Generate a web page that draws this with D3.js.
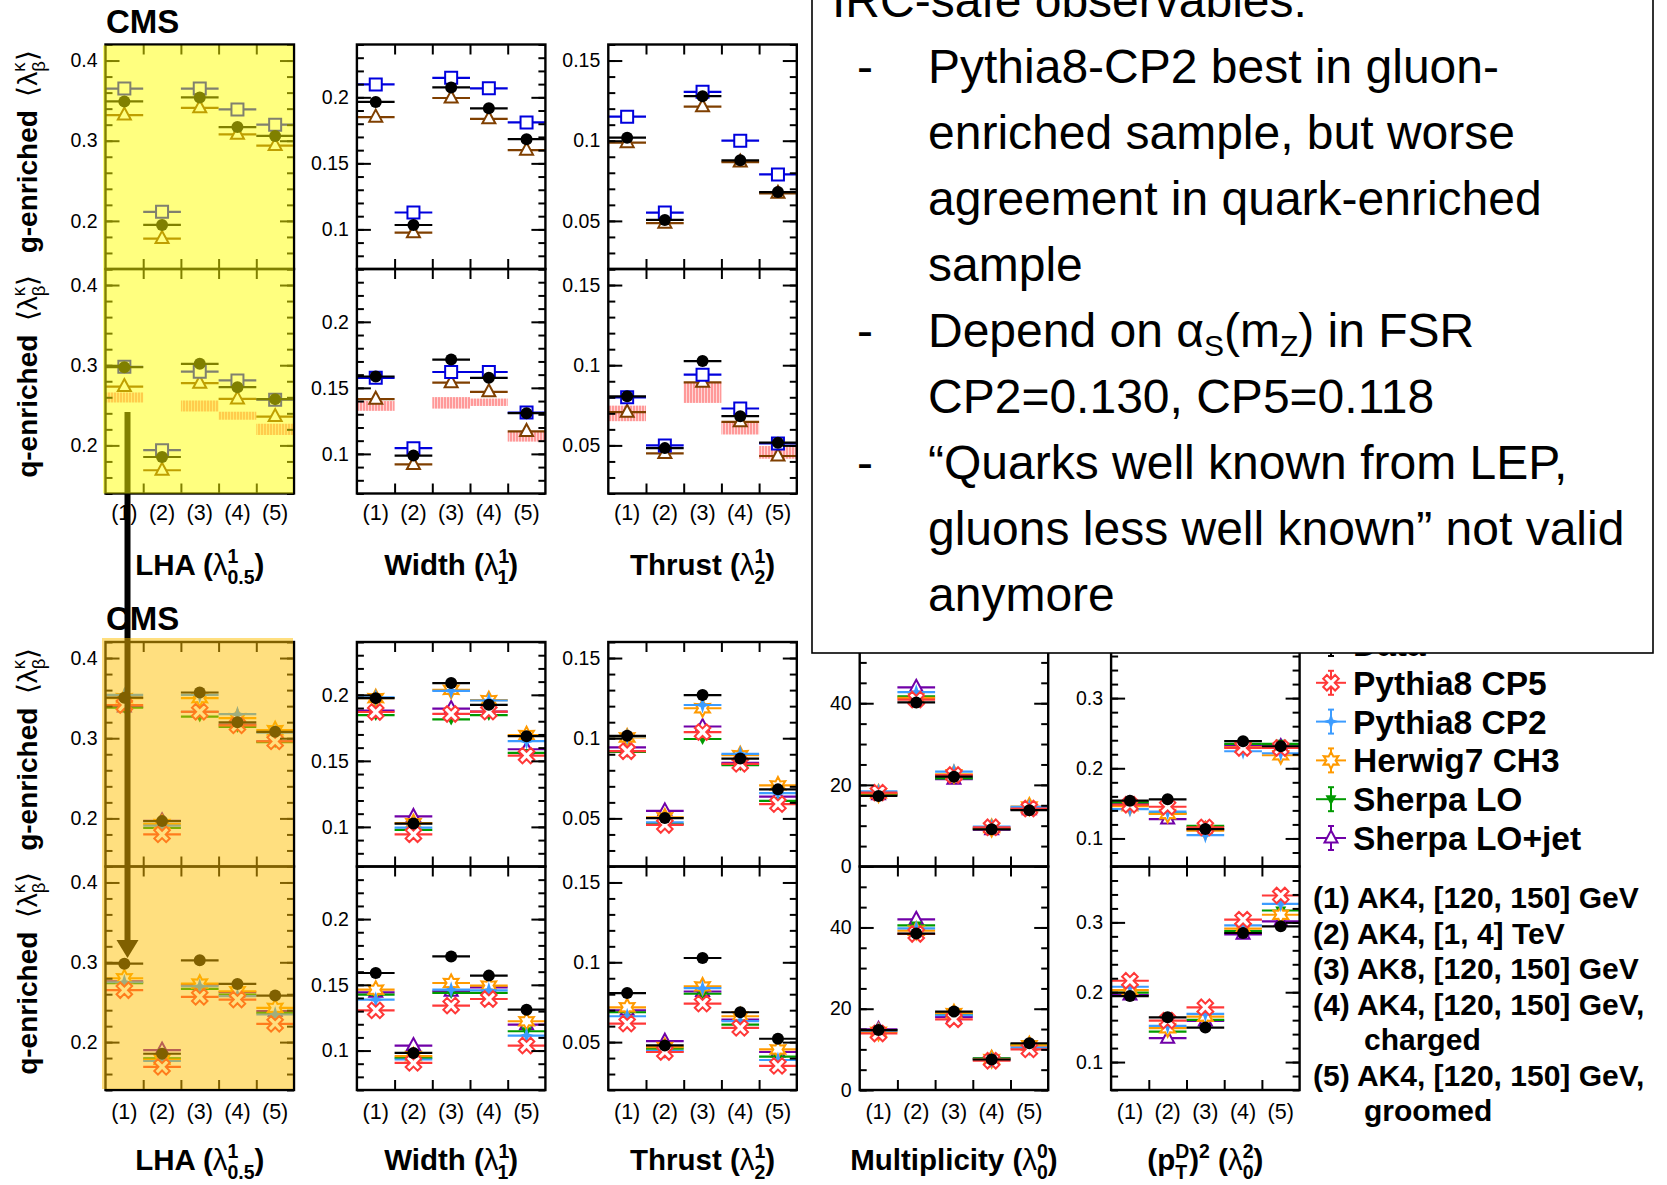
<!DOCTYPE html>
<html>
<head>
<meta charset="utf-8">
<script src="https://cdn.jsdelivr.net/npm/d3@7"></script>
<style>
  body { margin: 0; background: #fff; }
  svg { display: block; }
  text { font-family: "Liberation Sans", Arial, Helvetica, sans-serif; }
</style>
</head>
<body>
<svg id="chart" width="1667" height="1185"></svg>
<script>
// ---------------- categories, axes ----------------
const binLabels = ["(1)", "(2)", "(3)", "(4)", "(5)"];
const obsNames = ["LHA", "Width", "Thrust", "Multiplicity", "pTD"];
const yDomains = [[0.14, 0.42], [0.07, 0.24], [0.02, 0.16], [0, 55], [0.06, 0.38]];
const majorTicks = [[0.2, 0.3, 0.4], [0.1, 0.15, 0.2], [0.05, 0.1, 0.15], [0, 20, 40], [0.1, 0.2, 0.3]];
const minorSteps = [0.02, 0.01, 0.01, 5, 0.02];

// ---------------- upper block (LHA, Width, Thrust) ----------------
// gluon-enriched
const topG_data = [[0.349, 0.195, 0.354, 0.317, 0.306], [0.1965, 0.1033, 0.2075, 0.1917, 0.1683], [0.1019, 0.0506, 0.1278, 0.0878, 0.068]];
const topG_cp2  = [[0.365, 0.2113, 0.365, 0.339, 0.320], [0.2098, 0.1128, 0.2148, 0.2068, 0.181], [0.115, 0.0552, 0.1305, 0.100, 0.079]];
const topG_cp5  = [[0.332, 0.178, 0.341, 0.308, 0.294], [0.185, 0.0975, 0.1995, 0.1837, 0.160], [0.0988, 0.0486, 0.1212, 0.0867, 0.0672]];
// quark-enriched
const topQ_data = [[0.2975, 0.1855, 0.3017, 0.2726, 0.2577], [0.1586, 0.0987, 0.1714, 0.1576, 0.1308], [0.0806, 0.0483, 0.1026, 0.0682, 0.0517]];
const topQ_cp2  = [[0.298, 0.194, 0.292, 0.281, 0.257], [0.1576, 0.1043, 0.162, 0.162, 0.1313], [0.080, 0.050, 0.0941, 0.073, 0.0512]];
const topQ_cp5  = [[0.2734, 0.169, 0.2776, 0.258, 0.236], [0.1414, 0.092, 0.1539, 0.147, 0.117], [0.0707, 0.045, 0.0893, 0.0647, 0.0434]];
const topQ_bandLo = [[0.2535, null, 0.2423, 0.232, 0.213], [0.1326, null, 0.1343, 0.1363, 0.1093], [0.0651, null, 0.0765, 0.0568, 0.0417]];
const topQ_bandHi = [[0.266, null, 0.256, 0.242, 0.227], [0.140, null, 0.143, 0.1419, 0.1168], [0.0748, null, 0.0893, 0.0647, 0.0496]];

// ---------------- lower block (all five observables) ----------------
const botG_data  = [[0.3506, 0.1966, 0.357, 0.3198, 0.308], [0.1975, 0.1025, 0.2089, 0.1924, 0.1687], [0.1015, 0.0502, 0.1269, 0.0873, 0.0681], [17.3, 40.2, 22.0, 9.1, 13.8], [0.1538, 0.1557, 0.1133, 0.2386, 0.2314]];
const botG_cp5   = [[0.3413, 0.180, 0.333, 0.316, 0.296], [0.187, 0.0944, 0.1855, 0.1873, 0.154], [0.0919, 0.0459, 0.1038, 0.084, 0.0589], [18.1, 40.9, 22.4, 9.6, 14.2], [0.148, 0.1452, 0.1157, 0.229, 0.229]];
const botG_cp2   = [[0.354, 0.191, 0.354, 0.330, 0.307], [0.198, 0.0995, 0.203, 0.1957, 0.1649], [0.1011, 0.0475, 0.1207, 0.0902, 0.0657], [18.4, 42.7, 23.25, 9.76, 14.6], [0.1419, 0.1381, 0.1048, 0.2243, 0.2214]];
const botG_h7    = [[0.350, 0.193, 0.350, 0.325, 0.310], [0.1975, 0.1028, 0.2038, 0.196, 0.1695], [0.1005, 0.0506, 0.1187, 0.0894, 0.0706], [17.9, 41.3, 22.6, 9.43, 14.7], [0.1462, 0.1348, 0.111, 0.23, 0.2186]];
const botG_lo    = [[0.338, 0.188, 0.327, 0.314, 0.295], [0.1847, 0.0977, 0.1814, 0.1847, 0.156], [0.0914, 0.0465, 0.0995, 0.0832, 0.0609], [17.7, 41.7, 21.6, 9.2, 14.1], [0.1514, 0.1357, 0.118, 0.2348, 0.2348]];
const botG_lojet = [[0.339, 0.197, 0.333, 0.317, 0.296], [0.188, 0.1079, 0.1896, 0.1873, 0.1588], [0.0943, 0.0547, 0.1073, 0.0846, 0.0636], [17.6, 43.9, 21.4, 9.0, 13.9], [0.149, 0.1276, 0.113, 0.2324, 0.231]];

const botQ_data  = [[0.2983, 0.1854, 0.3025, 0.2729, 0.2583], [0.159, 0.0982, 0.1716, 0.157, 0.1311], [0.0807, 0.0479, 0.1027, 0.0687, 0.0521], [14.75, 38.5, 19.3, 7.5, 11.5], [0.1945, 0.1641, 0.1494, 0.2848, 0.2943]];
const botQ_cp5   = [[0.265, 0.169, 0.2567, 0.2533, 0.2229], [0.1306, 0.0906, 0.1342, 0.1392, 0.1038], [0.0616, 0.0438, 0.0741, 0.0589, 0.0351], [13.9, 38.4, 17.4, 7.2, 10.0], [0.2164, 0.1594, 0.1784, 0.3038, 0.3385]];
const botQ_cp2   = [[0.275, 0.1763, 0.27, 0.2575, 0.2346], [0.1387, 0.0932, 0.1463, 0.1458, 0.1114], [0.0662, 0.0444, 0.0838, 0.0631, 0.0388], [14.6, 39.75, 18.4, 7.4, 10.4], [0.2078, 0.1518, 0.1689, 0.2957, 0.3266]];
const botQ_h7    = [[0.280, 0.178, 0.2733, 0.2637, 0.2429], [0.1463, 0.0957, 0.1514, 0.1494, 0.1223], [0.0718, 0.0469, 0.0849, 0.0662, 0.0454], [14.3, 39.2, 18.9, 7.6, 11.0], [0.2031, 0.1485, 0.165, 0.291, 0.3109]];
const botQ_lo    = [[0.274, 0.1796, 0.2667, 0.2596, 0.2367], [0.1425, 0.0944, 0.1438, 0.1438, 0.1147], [0.0687, 0.0459, 0.0803, 0.061, 0.0409], [14.75, 40.5, 18.6, 7.8, 11.3], [0.1993, 0.1437, 0.1603, 0.2876, 0.317]];
const botQ_lojet = [[0.276, 0.190, 0.272, 0.2625, 0.2388], [0.1443, 0.1038, 0.1451, 0.1481, 0.1197], [0.0699, 0.0506, 0.0817, 0.0641, 0.0438], [14.9, 42.0, 18.0, 7.7, 11.0], [0.196, 0.1342, 0.1589, 0.2829, 0.3014]];

// ---------------- legend and notes ----------------
const legendNames = ["Data", "Pythia8 CP5", "Pythia8 CP2", "Herwig7 CH3", "Sherpa LO", "Sherpa LO+jet"];
const binDescriptions = [
  ["(1) AK4, [120, 150] GeV"],
  ["(2) AK4, [1, 4] TeV"],
  ["(3) AK8, [120, 150] GeV"],
  ["(4) AK4, [120, 150] GeV,", "charged"],
  ["(5) AK4, [120, 150] GeV,", "groomed"]
];
const noteLines = [
  "IRC-safe observables:",
  "Pythia8-CP2 best in gluon-",
  "enriched sample, but worse",
  "agreement in quark-enriched",
  "sample",
  "Depend on α_S(m_Z) in FSR",
  "CP2=0.130, CP5=0.118",
  "\u201CQuarks well known from LEP,",
  "gluons less well known\u201D not valid",
  "anymore"
];
const noteBullets = [1, 5, 7];

// ---------------- styles ----------------
const styleData  = { color: "#000000", marker: "circle", filled: true };
const styleTopA  = { color: "#0000dd", marker: "square", filled: false };
const styleTopB  = { color: "#7f3f00", marker: "triUp", filled: false };
const styleCP5   = { color: "#ff3838", marker: "xcross", filled: false };
const styleCP2   = { color: "#3c9cff", marker: "star4", filled: true };
const styleH7    = { color: "#ff9a00", marker: "hexagram", filled: false };
const styleLO    = { color: "#009a00", marker: "triDown", filled: true };
const styleLOjet = { color: "#7000a8", marker: "triUp", filled: false };
const legendStyles = [styleData, styleCP5, styleCP2, styleH7, styleLO, styleLOjet];

// ---------------- layout ----------------
const panelW = 188.5;
const colX = i => 105.5 + i * 251.4;
const rowsGeom = [
  { top: 44.5, split: 269, bottom: 493.5, catY: 520, titleY: 575 },
  { top: 642, split: 866.5, bottom: 1090, catY: 1119, titleY: 1170 }
];

const svg = d3.select("#chart");

function markerPath(m) {
  switch (m) {
    case "circle": return d3.symbol(d3.symbolCircle, Math.PI * 36)();
    case "square": return "M-6,-6H6V6H-6Z";
    case "triUp": return "M0,-7.5L6.5,4.5L-6.5,4.5Z";
    case "triDown": return "M0,6L5.5,-4L-5.5,-4Z";
    case "star4": return "M0,-8.5L2,-2L8.5,0L2,2L0,8.5L-2,2L-8.5,0L-2,-2Z";
    case "xcross": {
      const a = 2.6, L = 8.4;
      const pts = [[-a, -L], [a, -L], [a, -a], [L, -a], [L, a], [a, a], [a, L], [-a, L], [-a, a], [-L, a], [-L, -a], [-a, -a]];
      const r = pts.map(([x, y]) => [(x - y) / Math.SQRT2, (x + y) / Math.SQRT2]);
      return "M" + r.map(p => p.map(v => v.toFixed(2)).join(",")).join("L") + "Z";
    }
    case "hexagram": {
      const pts = d3.range(12).map(k => {
        const ang = -Math.PI / 2 + k * Math.PI / 6, rr = k % 2 === 0 ? 8.5 : 4.6;
        return [rr * Math.cos(ang), rr * Math.sin(ang)];
      });
      return "M" + pts.map(p => p.map(v => v.toFixed(2)).join(",")).join("L") + "Z";
    }
  }
}

function drawMarker(g, cx, cy, style) {
  const p = g.append("path").attr("d", markerPath(style.marker))
    .attr("transform", `translate(${cx},${cy})`);
  if (style.filled) p.attr("fill", style.color).attr("stroke", "none");
  else p.attr("fill", "#fff").attr("stroke", style.color).attr("stroke-width", 2);
}

// stepping text with stacked super/subscripts
function richText(textSel, parts, fs) {
  let shift = 0, pendingDx = 0;
  const small = fs * 0.66;
  parts.forEach(p => {
    if (p.t !== undefined) {
      const ts = textSel.append("tspan").attr("font-weight", p.w || "bold")
        .attr("font-size", p.fs || fs).attr("dy", -shift).text(p.t);
      if (pendingDx) ts.attr("dx", pendingDx);
      shift = 0; pendingDx = 0;
    } else {
      let supW = 0, subW = 0;
      if (p.sup !== undefined) {
        const target = -0.42 * fs;
        const ts = textSel.append("tspan").attr("font-weight", p.w || "bold")
          .attr("font-size", small).attr("dy", target - shift).text(p.sup);
        if (pendingDx) ts.attr("dx", pendingDx);
        pendingDx = 0;
        shift = target;
        supW = ts.node().getComputedTextLength();
      }
      if (p.sub !== undefined) {
        const target = 0.3 * fs;
        const ts = textSel.append("tspan").attr("font-weight", p.w || "bold")
          .attr("font-size", small).attr("dy", target - shift).text(p.sub);
        if (supW) ts.attr("dx", -supW);
        else if (pendingDx) ts.attr("dx", pendingDx);
        pendingDx = 0;
        shift = target;
        subW = ts.node().getComputedTextLength();
      }
      if (supW > subW && p.sub !== undefined) pendingDx = supW - subW;
    }
  });
}

function yScaleFor(obs, top, bottom) {
  return d3.scaleLinear().domain(yDomains[obs]).range([bottom, top]);
}

function minorValues(obs) {
  const [d0, d1] = yDomains[obs], st = minorSteps[obs];
  const out = [];
  for (let k = Math.ceil(d0 / st - 1e-6); k <= Math.floor(d1 / st + 1e-6); k++) out.push(+(k * st).toFixed(6));
  return out;
}

function drawFrame(g, obs, x0, top, bottom) {
  const y = yScaleFor(obs, top, bottom);
  const xl = d3.scaleLinear().domain([0, 5]).range([x0, x0 + panelW]);
  const [d0, d1] = yDomains[obs];
  const maj = majorTicks[obs].filter(v => v >= d0 - 1e-9 && v <= d1 + 1e-9);
  const minr = minorValues(obs);
  const axes = g.append("g");
  axes.append("g").attr("transform", `translate(0,${top})`)
    .call(d3.axisTop(xl).tickValues([1, 2, 3, 4]).tickSize(-10).tickFormat(""));
  axes.append("g").attr("transform", `translate(0,${bottom})`)
    .call(d3.axisBottom(xl).tickValues([1, 2, 3, 4]).tickSize(-10).tickFormat(""));
  axes.append("g").attr("transform", `translate(${x0},0)`)
    .call(d3.axisLeft(y).tickValues(minr).tickSize(-7).tickFormat(""));
  axes.append("g").attr("transform", `translate(${x0 + panelW},0)`)
    .call(d3.axisRight(y).tickValues(minr).tickSize(-7).tickFormat(""));
  axes.append("g").attr("transform", `translate(${x0 + panelW},0)`)
    .call(d3.axisRight(y).tickValues(maj).tickSize(-14).tickFormat(""));
  axes.append("g").attr("class", "ylab").attr("transform", `translate(${x0},0)`)
    .call(d3.axisLeft(y).tickValues(maj).tickSize(-14).tickPadding(8).tickFormat(d3.format("~g")));
  axes.selectAll(".domain").remove();
  axes.selectAll(".tick line").attr("stroke", "#000").attr("stroke-width", 2);
  axes.selectAll(".tick text").attr("font-size", 19.5).attr("fill", "#000")
    .attr("font-family", "'Liberation Sans', Arial, sans-serif");
  g.append("rect").attr("x", x0).attr("y", top).attr("width", panelW).attr("height", bottom - top)
    .attr("fill", "none").attr("stroke", "#000").attr("stroke-width", 2.4);
}

function drawBand(g, lo, hi, xb, y) {
  lo.forEach((v, i) => {
    if (v == null || hi[i] == null) return;
    g.append("rect").attr("x", xb(binLabels[i])).attr("width", xb.bandwidth())
      .attr("y", y(hi[i])).attr("height", y(v) - y(hi[i]))
      .attr("fill", "url(#hatch)");
  });
}

function drawSeries(g, vals, xb, y, style) {
  const sg = g.append("g");
  vals.forEach((v, i) => {
    if (v == null) return;
    const x0 = xb(binLabels[i]), cy = y(v);
    sg.append("line").attr("x1", x0).attr("x2", x0 + xb.bandwidth()).attr("y1", cy).attr("y2", cy)
      .attr("stroke", style.color).attr("stroke-width", 2.2);
  });
  vals.forEach((v, i) => {
    if (v == null) return;
    const cx = xb(binLabels[i]) + xb.bandwidth() / 2;
    drawMarker(sg, cx, y(v), style);
  });
}

function yTitle(g, cx, cy, sampleLabel) {
  const t = g.append("text").attr("transform", `translate(${cx},${cy}) rotate(-90)`)
    .attr("text-anchor", "middle").attr("font-size", 28).attr("fill", "#000");
  richText(t, [
    { t: sampleLabel, w: "bold" },
    { t: "\u2009 \u27E8\u03BB", w: "normal" },
    { sup: "\u03BA", sub: "\u03B2", w: "normal" },
    { t: "\u27E9", w: "normal" }
  ], 28);
}

const titleParts = [
  [{ t: "LHA (", w: "bold" }, { t: "\u03BB", w: "normal" }, { sup: "1", sub: "0.5" }, { t: ")" }],
  [{ t: "Width (", w: "bold" }, { t: "\u03BB", w: "normal" }, { sup: "1", sub: "1" }, { t: ")" }],
  [{ t: "Thrust (", w: "bold" }, { t: "\u03BB", w: "normal" }, { sup: "1", sub: "2" }, { t: ")" }],
  [{ t: "Multiplicity (", w: "bold" }, { t: "\u03BB", w: "normal" }, { sup: "0", sub: "0" }, { t: ")" }],
  [{ t: "(p", w: "bold" }, { sup: "D", sub: "T" }, { t: ")" }, { sup: "2" }, { t: " (" }, { t: "\u03BB", w: "normal" }, { sup: "2", sub: "0" }, { t: ")" }]
];

// hatch pattern for the band
const defs = svg.append("defs");
const pat = defs.append("pattern").attr("id", "hatch").attr("patternUnits", "userSpaceOnUse")
  .attr("width", 3).attr("height", 6);
pat.append("rect").attr("width", 3).attr("height", 6).attr("fill", "#ffd6d6");
pat.append("line").attr("x1", 1).attr("x2", 1).attr("y1", 0).attr("y2", 6)
  .attr("stroke", "#ff7f7f").attr("stroke-width", 1.4);

function drawBlock(rowIdx, nObs, gluonLayers, quarkLayers) {
  const R = rowsGeom[rowIdx];
  const block = svg.append("g");
  for (let o = 0; o < nObs; o++) {
    const x0 = colX(o);
    const xb = d3.scaleBand().domain(binLabels).range([x0, x0 + panelW]).padding(0);
    const gP = block.append("g");
    const yg = yScaleFor(o, R.top, R.split);
    const yq = yScaleFor(o, R.split, R.bottom);
    gluonLayers.forEach(L => {
      if (L.band) drawBand(gP, L.lo[o], L.hi[o], xb, yg);
      else drawSeries(gP, L.vals[o], xb, yg, L.style);
    });
    quarkLayers.forEach(L => {
      if (L.band) drawBand(gP, L.lo[o], L.hi[o], xb, yq);
      else drawSeries(gP, L.vals[o], xb, yq, L.style);
    });
    drawFrame(gP, o, x0, R.top, R.split);
    drawFrame(gP, o, x0, R.split, R.bottom);
    // category labels
    gP.selectAll(null).data(binLabels).enter().append("text")
      .attr("x", d => xb(d) + xb.bandwidth() / 2).attr("y", R.catY)
      .attr("text-anchor", "middle").attr("font-size", 21.5).text(d => d);
    // observable title
    const t = gP.append("text").attr("x", x0 + panelW / 2).attr("y", R.titleY)
      .attr("text-anchor", "middle").attr("font-size", 29.5).attr("fill", "#000");
    richText(t, titleParts[o], 29.5);
  }
  yTitle(block, 37, (R.top + R.split) / 2 - 5, "g-enriched");
  yTitle(block, 37, (R.split + R.bottom) / 2 - 5, "q-enriched");
  block.append("text").attr("x", 106).attr("y", rowIdx === 0 ? 33 : 630)
    .attr("font-size", 33).attr("font-weight", "bold").text("CMS");
}

// upper block: three observables
drawBlock(0, 3,
  [{ vals: topG_cp5, style: styleTopB }, { vals: topG_cp2, style: styleTopA }, { vals: topG_data, style: styleData }],
  [{ band: true, lo: topQ_bandLo, hi: topQ_bandHi }, { vals: topQ_cp5, style: styleTopB }, { vals: topQ_cp2, style: styleTopA }, { vals: topQ_data, style: styleData }]
);

// lower block: all five observables
drawBlock(1, 5,
  [{ vals: botG_lojet, style: styleLOjet }, { vals: botG_lo, style: styleLO }, { vals: botG_h7, style: styleH7 },
   { vals: botG_cp2, style: styleCP2 }, { vals: botG_cp5, style: styleCP5 }, { vals: botG_data, style: styleData }],
  [{ vals: botQ_lojet, style: styleLOjet }, { vals: botQ_lo, style: styleLO }, { vals: botQ_h7, style: styleH7 },
   { vals: botQ_cp2, style: styleCP2 }, { vals: botQ_cp5, style: styleCP5 }, { vals: botQ_data, style: styleData }]
);

// legend
const leg = svg.append("g");
legendNames.forEach((name, i) => {
  const base = 656 + i * 38.8, cy = base - 12, cx = 1331;
  const st = legendStyles[i];
  leg.append("line").attr("x1", cx - 15).attr("x2", cx + 15).attr("y1", cy).attr("y2", cy)
    .attr("stroke", st.color).attr("stroke-width", 2);
  leg.append("line").attr("x1", cx).attr("x2", cx).attr("y1", cy - 12).attr("y2", cy + 12)
    .attr("stroke", st.color).attr("stroke-width", 2);
  [cy - 12, cy + 12].forEach(yy => leg.append("line").attr("x1", cx - 3).attr("x2", cx + 3)
    .attr("y1", yy).attr("y2", yy).attr("stroke", st.color).attr("stroke-width", 2));
  drawMarker(leg, cx, cy, st);
  leg.append("text").attr("x", 1353).attr("y", base).attr("font-size", 33.5)
    .attr("font-weight", "bold").text(name);
});
let descLine = 0;
binDescriptions.forEach(lines => {
  lines.forEach((s, j) => {
    leg.append("text").attr("x", j === 0 ? 1313 : 1364).attr("y", 908 + descLine * 35.5)
      .attr("font-size", 30).attr("font-weight", "bold").text(s);
    descLine++;
  });
});

// arrow from the upper LHA panel down to the lower one
const arrowX = 127.5;
svg.append("line").attr("x1", arrowX).attr("x2", arrowX).attr("y1", 412).attr("y2", 942)
  .attr("stroke", "#000").attr("stroke-width", 6);
svg.append("path").attr("d", `M${arrowX - 11},940L${arrowX + 11},940L${arrowX},958Z`).attr("fill", "#000");

// highlight shading on the LHA panels
svg.append("rect").attr("x", 103).attr("y", 45.5).attr("width", 190).attr("height", 448)
  .attr("fill", "#ffff00").attr("opacity", 0.5);
svg.append("rect").attr("x", 102).attr("y", 638).attr("width", 191).attr("height", 451)
  .attr("fill", "#ffbf00").attr("opacity", 0.5);

// note box
const box = svg.append("g");
box.append("rect").attr("x", 812).attr("y", -6).attr("width", 841).attr("height", 659)
  .attr("fill", "#fff").attr("stroke", "#000").attr("stroke-width", 1.6);
noteLines.forEach((line, i) => {
  const yb = 17 + i * 66;
  const x = i === 0 ? 832 : 928;
  if (noteBullets.includes(i)) {
    box.append("text").attr("x", 857).attr("y", yb).attr("font-size", 48).text("-");
  }
  const t = box.append("text").attr("x", x).attr("y", yb).attr("font-size", 48);
  const pieces = line.split(/(_\w)/);
  let sub = false;
  pieces.forEach(pc => {
    if (!pc) return;
    if (pc.startsWith("_")) {
      t.append("tspan").attr("font-size", 30).attr("dy", 9).text(pc.slice(1));
      sub = true;
    } else {
      const ts = t.append("tspan").text(pc);
      if (sub) { ts.attr("dy", -9); sub = false; }
    }
  });
});
</script>
</body>
</html>
